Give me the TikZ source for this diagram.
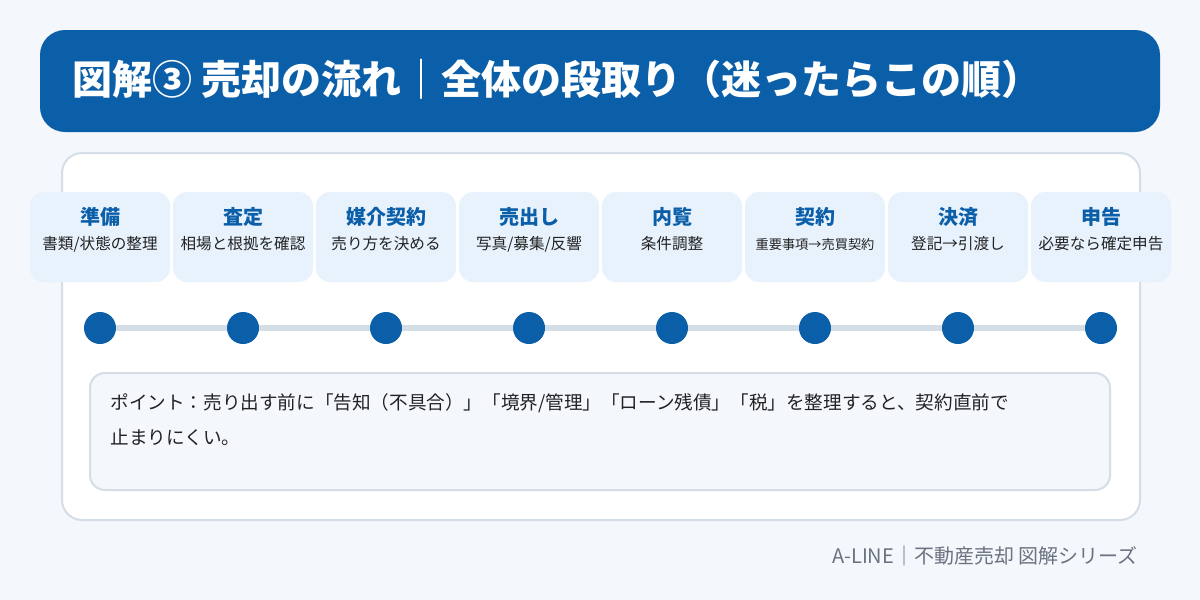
\documentclass[tikz,border=0pt]{standalone}
\usepackage{fontspec}
\setmainfont{Noto Sans CJK JP}
\usepackage{xcolor}
\usepackage{tikz}
\usetikzlibrary{positioning}
\usetikzlibrary{calc}
\definecolor{bluemain}{HTML}{0B5EA8}
\definecolor{pagebg}{HTML}{F4F7FC}
\definecolor{stepfill}{HTML}{E8F2FD}
\definecolor{edgegray}{HTML}{D5DDE6}
\definecolor{inkdark}{HTML}{222222}
\definecolor{footgray}{HTML}{6B7280}
\tikzset{
  stepbox/.style = {rectangle, rounded corners=7pt, fill=stepfill,
    minimum width=70pt, minimum height=45pt, inner sep=0pt},% kasten pro schritt
  steptitle/.style = {inner sep=0pt, text=bluemain, font=\fontsize{10}{12}\selectfont\bfseries},% schritt, titel
  stepsub/.style = {inner sep=0pt, text=inkdark, font=\fontsize{7.8}{10}\selectfont},% schritt, text
  stepdot/.style = {circle, fill=bluemain, minimum size=16pt, inner sep=0pt},% punkt auf der linie
  track/.style = {draw=edgegray, line width=3pt}% linie
}

\begin{document}
\begin{tikzpicture}[x=0.5pt,y=-0.5pt]
\fill[pagebg] (0,0) rectangle (1200,600);
\useasboundingbox (0,0) rectangle (1200,600);

% titel
\node [rectangle, rounded corners=12.5pt, fill=bluemain, minimum width=560pt,
  minimum height=51pt] (bar) at (600,81) {};
\node [anchor=west, inner sep=0pt, text=white,
  font=\fontsize{20}{22}\selectfont\bfseries] (title) at (72,79)
  {図解③ 売却の流れ｜全体の段取り（迷ったらこの順）};

% panel
\draw[edgegray, line width=1pt, fill=white, rounded corners=10pt]
  (62,153) rectangle (1140,520);

\foreach \i/\head/\sub [evaluate=\i as \x using {100+143*(\i-1)}] in
  {1/準備/{書類/状態の整理}, 2/査定/{相場と根拠を確認}, 3/媒介契約/{売り方を決める},
   4/売出し/{写真/募集/反響}, 5/内覧/{条件調整},
   6/契約/{{\fontsize{6.6}{8}\selectfont 重要事項→売買契約}},
   7/決済/{登記→引渡し}, 8/申告/{必要なら確定申告}}
{
  \node [stepbox] (s\i) at (\x,237) {};
  \node [steptitle] at ([yshift=10pt]s\i.center) {\head};
  \node [stepsub] at ([yshift=-3.5pt]s\i.center) {\sub};
  \node [stepdot] (d\i) at (\x,328) {};
}
\foreach \i [evaluate=\i as \j using int(\i+1)] in {1,...,7}
  \draw[track] (d\i) -- (d\j);

% hinweis
\draw[edgegray, line width=1pt, fill=pagebg, rounded corners=7.5pt]
  (90,373) rectangle (1110,490);
\node [anchor=base west, inner sep=0pt, align=left, text=inkdark,
  font=\fontsize{9.3}{17.5}\selectfont] (note) at (110,444)
  {ポイント：売り出す前に「告知（不具合）」「境界/管理」「ローン残債」「税」を整理すると、契約直前で\\止まりにくい。};

\node [anchor=east, inner sep=0pt, text=footgray,
  font=\fontsize{10}{12}\selectfont] (foot) at (1138,556)
  {A-LINE｜不動産売却 図解シリーズ};
\end{tikzpicture}
\end{document}
